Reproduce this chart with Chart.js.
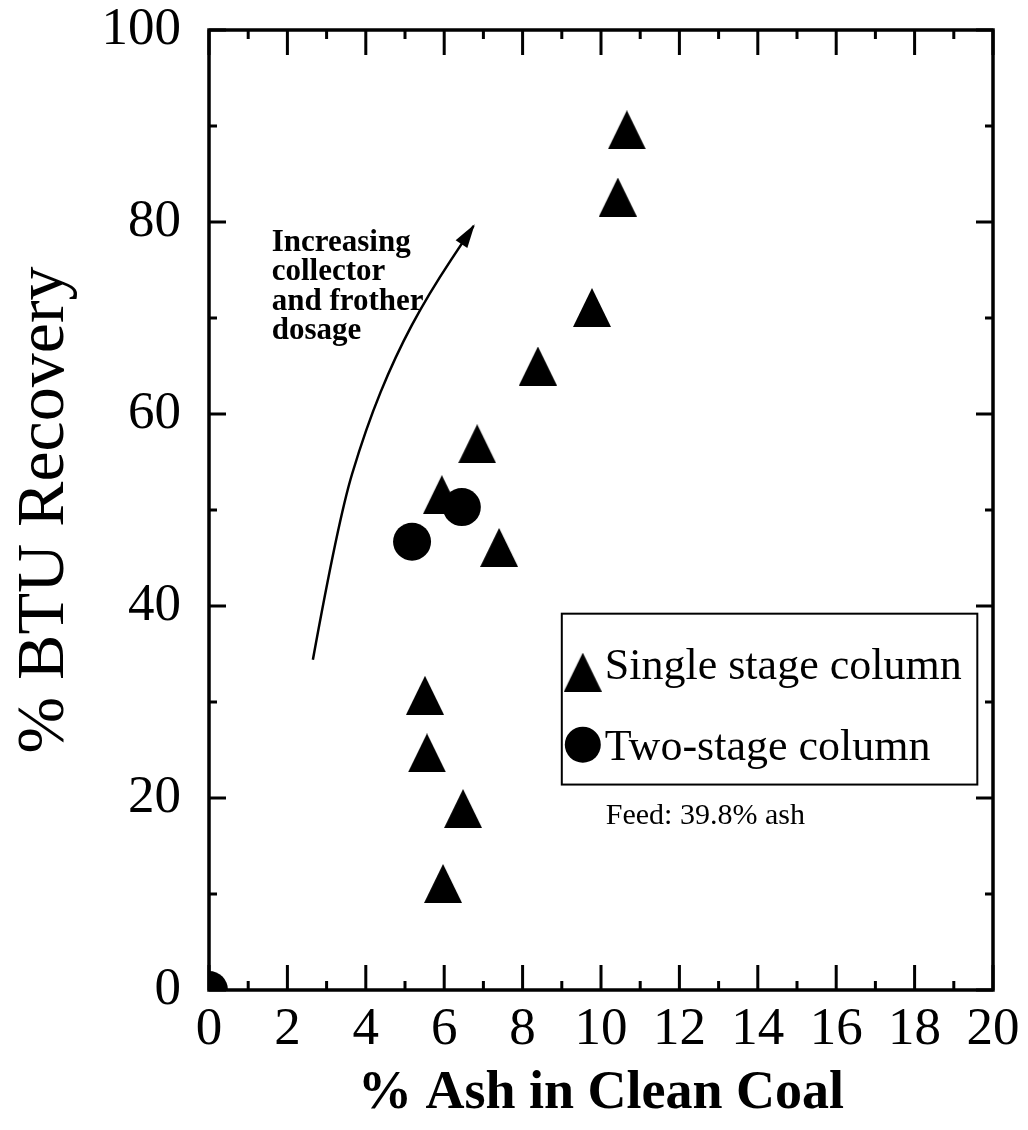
<!DOCTYPE html>
<html>
<head>
<meta charset="utf-8">
<script src="https://cdn.jsdelivr.net/npm/chart.js@4.4.1/dist/chart.umd.min.js"></script>
<style>
  html, body { margin: 0; padding: 0; background: #fff; }
  #wrap { width: 1028px; height: 1130px; position: relative; }
</style>
</head>
<body>
<div id="wrap"><canvas id="c" width="1028" height="1130"></canvas></div>
<script>
// Flotation results: % ash in clean coal vs % BTU recovery
const ashSingle = [10.66, 10.43, 9.77, 8.39, 6.84, 5.94, 7.40, 5.51, 5.56, 6.48, 5.97];
const btuSingle = [89.6, 82.6, 71.1, 65.0, 56.9, 51.6, 46.1, 30.7, 24.7, 18.9, 11.1];
const ashTwo = [6.45, 5.18, 0];
const btuTwo = [50.3, 46.7, 0];

const xMajorTicks = [0, 2, 4, 6, 8, 10, 12, 14, 16, 18, 20];
const xMinorTicks = [1, 3, 5, 7, 9, 11, 13, 15, 17, 19];
const yMajorTicks = [0, 20, 40, 60, 80, 100];
const yMinorTicks = [10, 30, 50, 70, 90];

const seriesNames = ['Single stage column', 'Two-stage column'];
const feedNote = 'Feed: 39.8% ash';
const noteLines = ['Increasing', 'collector', 'and frother', 'dosage'];
// curved arrow path in data units (ash %, BTU %)
const arrowX = [2.65, 3.3, 4.0, 4.75, 5.6, 6.75];
const arrowY = [34.4, 49.0, 58.5, 66.0, 72.5, 79.6];

const SERIF = '"Liberation Serif", "Times New Roman", serif';

function triangleImage(w, h) {
  const c = document.createElement('canvas');
  c.width = w; c.height = h;
  const g = c.getContext('2d');
  g.fillStyle = '#000';
  g.beginPath();
  g.moveTo(w / 2, 0);
  g.lineTo(w, h);
  g.lineTo(0, h);
  g.closePath();
  g.fill();
  return c;
}
const tri = triangleImage(38, 39);

const toPts = (xs, ys) => xs.map((x, i) => ({ x, y: ys[i] }));

const framePlugin = {
  id: 'frame',
  afterDatasetsDraw(chart) {
    const { ctx, chartArea: a, scales: { x, y } } = chart;
    ctx.save();
    ctx.strokeStyle = '#000';
    ctx.lineCap = 'butt';
    ctx.lineWidth = 3;
    // inward ticks on all four sides
    const xt = (vals, len) => vals.forEach(v => {
      const px = x.getPixelForValue(v);
      ctx.beginPath();
      ctx.moveTo(px, a.bottom); ctx.lineTo(px, a.bottom - len);
      ctx.moveTo(px, a.top); ctx.lineTo(px, a.top + len);
      ctx.stroke();
    });
    const yt = (vals, len) => vals.forEach(v => {
      const py = y.getPixelForValue(v);
      ctx.beginPath();
      ctx.moveTo(a.left, py); ctx.lineTo(a.left + len, py);
      ctx.moveTo(a.right, py); ctx.lineTo(a.right - len, py);
      ctx.stroke();
    });
    xt(xMajorTicks, 25); xt(xMinorTicks, 9);
    yt(yMajorTicks, 17); yt(yMinorTicks, 8);
    ctx.lineWidth = 3.5;
    ctx.strokeRect(a.left, a.top, a.right - a.left, a.bottom - a.top);

    // annotation text
    ctx.fillStyle = '#000';
    ctx.font = 'bold 31px ' + SERIF;
    ctx.textAlign = 'left';
    ctx.textBaseline = 'alphabetic';
    const tx = x.getPixelForValue(1.6);
    const ty = y.getPixelForValue(77.0);
    noteLines.forEach((s, i) => ctx.fillText(s, tx, ty + i * 29.5));

    // curved arrow
    const px = arrowX.map(v => x.getPixelForValue(v));
    const py = arrowY.map(v => y.getPixelForValue(v));
    ctx.lineWidth = 2.5;
    ctx.beginPath();
    ctx.moveTo(px[0], py[0]);
    for (let i = 1; i < px.length - 1; i++) {
      const mx = (px[i] + px[i + 1]) / 2, my = (py[i] + py[i + 1]) / 2;
      ctx.quadraticCurveTo(px[i], py[i], mx, my);
    }
    const n = px.length - 1;
    ctx.lineTo(px[n], py[n]);
    ctx.stroke();
    const ang = Math.atan2(py[n] - py[n - 1], px[n] - px[n - 1]);
    ctx.save();
    ctx.translate(px[n], py[n]);
    ctx.rotate(ang);
    ctx.beginPath();
    ctx.moveTo(2, 0);
    ctx.lineTo(-22, -7);
    ctx.lineTo(-22, 7);
    ctx.closePath();
    ctx.fill();
    ctx.restore();

    // legend box
    const lx = x.getPixelForValue(9.0), rx = x.getPixelForValue(19.6);
    const ly = y.getPixelForValue(39.2), by = y.getPixelForValue(21.4);
    ctx.fillStyle = '#fff';
    ctx.fillRect(lx, ly, rx - lx, by - ly);
    ctx.lineWidth = 2;
    ctx.strokeRect(lx, ly, rx - lx, by - ly);
    ctx.fillStyle = '#000';
    ctx.drawImage(tri, lx + 21 - 19, ly + 58 - 19);
    ctx.beginPath();
    ctx.arc(lx + 21, ly + 131, 18, 0, Math.PI * 2);
    ctx.fill();
    ctx.font = '44px ' + SERIF;
    ctx.fillText(seriesNames[0], lx + 43, ly + 65);
    ctx.fillText(seriesNames[1], lx + 43, ly + 146);
    ctx.font = '30px ' + SERIF;
    ctx.fillText(feedNote, lx + 44, by + 39);
    ctx.restore();
  }
};

new Chart(document.getElementById('c'), {
  type: 'scatter',
  data: {
    datasets: [
      {
        label: seriesNames[0],
        data: toPts(ashSingle, btuSingle),
        pointStyle: tri,
        backgroundColor: '#000',
        borderColor: '#000',
        order: 1
      },
      {
        label: seriesNames[1],
        data: toPts(ashTwo, btuTwo),
        pointStyle: 'circle',
        pointRadius: 19,
        borderWidth: 0,
        backgroundColor: '#000',
        borderColor: '#000',
        clip: 0,
        order: 0
      }
    ]
  },
  plugins: [framePlugin],
  options: {
    responsive: false,
    animation: false,
    events: [],
    layout: { padding: { top: 30, right: 35, left: 0, bottom: 0 } },
    plugins: { legend: { display: false }, tooltip: { enabled: false } },
    scales: {
      x: {
        type: 'linear', min: 0, max: 20,
        afterBuildTicks: s => { s.ticks = xMajorTicks.map(v => ({ value: v })); },
        afterFit: s => { s.height = 140; s.paddingLeft = 0; s.paddingRight = 0; },
        grid: { display: false, drawTicks: false },
        border: { display: false },
        ticks: { color: '#000', padding: 8, font: { family: SERIF, size: 53 }, maxRotation: 0, autoSkip: false },
        title: { display: true, text: '% Ash in Clean Coal', color: '#000', padding: { top: 0 }, font: { family: SERIF, size: 54, weight: 'bold' } }
      },
      y: {
        type: 'linear', min: 0, max: 100,
        afterBuildTicks: s => { s.ticks = yMajorTicks.map(v => ({ value: v })); },
        afterFit: s => { s.width = 209; s.paddingTop = 0; s.paddingBottom = 0; },
        grid: { display: false, drawTicks: false },
        border: { display: false },
        ticks: { color: '#000', padding: 28, font: { family: SERIF, size: 53 }, autoSkip: false },
        title: { display: true, text: '% BTU Recovery', color: '#000', padding: { bottom: 0 }, font: { family: SERIF, size: 68 } }
      }
    }
  }
});
</script>
</body>
</html>
